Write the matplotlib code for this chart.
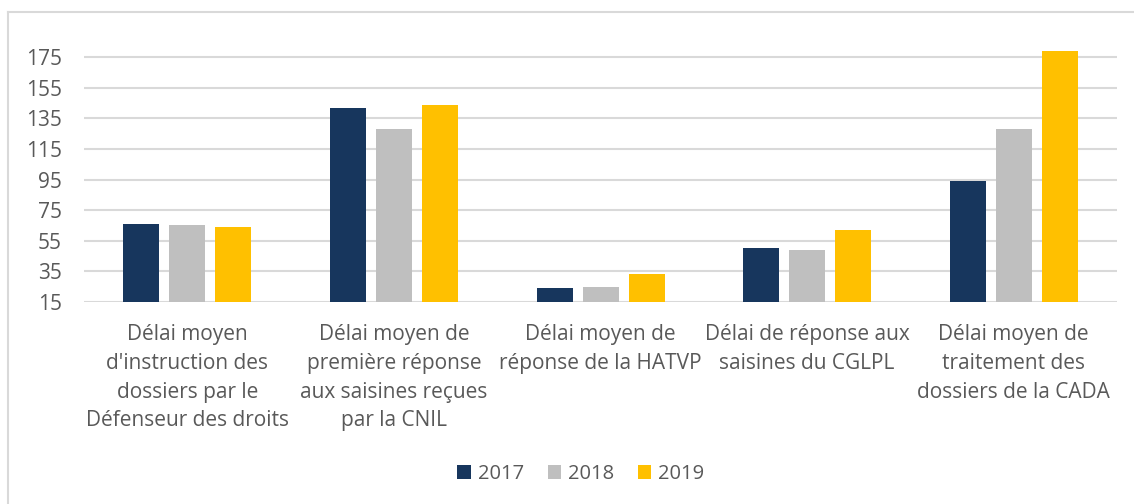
import matplotlib
matplotlib.use("Agg")
import matplotlib.pyplot as plt
import numpy as np
from matplotlib.patches import Patch

categories = [
    "Délai moyen\nd'instruction des\ndossiers par le\nDéfenseur des droits",
    "Délai moyen de\npremière réponse\naux saisines reçues\npar la CNIL",
    "Délai moyen de\nréponse de la HATVP",
    "Délai de réponse aux\nsaisines du CGLPL",
    "Délai moyen de\ntraitement des\ndossiers de la CADA",
]
years = ["2017", "2018", "2019"]
v2017 = [66, 142, 24, 50.5, 94]
v2018 = [65.5, 128, 25, 49, 128]
v2019 = [64, 144, 33, 62, 179]
yticks = [15, 35, 55, 75, 95, 115, 135, 155, 175]
colors = ["#17365D", "#BFBFBF", "#FFC000"]
unit_note = "(en jours)"

plt.rcParams['font.family'] = ['Open Sans', 'DejaVu Sans']
txt = "#595959"

fig = plt.figure(figsize=(11.34, 5.04), dpi=100)
ax = fig.add_axes([84/1134, 1-302/504, (1117-84)/1134, (302-48)/504])

x = np.arange(len(categories))
w = 36/206.6
step = 46/206.6
series = [v2017, v2018, v2019]
for i, (vals, c) in enumerate(zip(series, colors)):
    ax.bar(x + (i-1)*step, np.array(vals) - 15, bottom=15, width=w, color=c,
           zorder=3, label=years[i])

ax.set_xlim(-0.5, len(categories)-0.5)
ax.set_ylim(15, 181)
ax.set_yticks(yticks)
ax.set_yticklabels([str(t) for t in yticks], fontsize=15, color=txt)
ax.yaxis.grid(True, color="#D9D9D9", linewidth=1.5, zorder=0)
ax.tick_params(axis='y', length=0, pad=16)
ax.tick_params(axis='x', length=0, pad=16)
ax.set_xticks(x)
ax.set_xticklabels(categories, fontsize=15, color=txt, linespacing=1.48)
for s in ax.spines.values():
    s.set_visible(False)

# chart frame (left and top borders)
fig.add_artist(plt.Line2D([7.5/1134, 7.5/1134], [0, 1-12/504], transform=fig.transFigure,
                          color="#D9D9D9", linewidth=1.5))
fig.add_artist(plt.Line2D([7.5/1134, 1], [1-12/504, 1-12/504], transform=fig.transFigure,
                          color="#D9D9D9", linewidth=1.5))
fig.text(1046/1134, 1+12/504, unit_note, fontsize=15, color=txt, ha='left', va='center')

handles = [Patch(facecolor=c, edgecolor='none') for c in colors]
leg = fig.legend(handles, years, loc='center', bbox_to_anchor=(581/1134, 1-474/504),
                 ncol=3, frameon=False, fontsize=14.5, handlelength=0.65, handleheight=0.65,
                 handletextpad=0.35, columnspacing=1.2)
for t in leg.get_texts():
    t.set_color(txt)

fig.savefig("out.png", dpi=100)
